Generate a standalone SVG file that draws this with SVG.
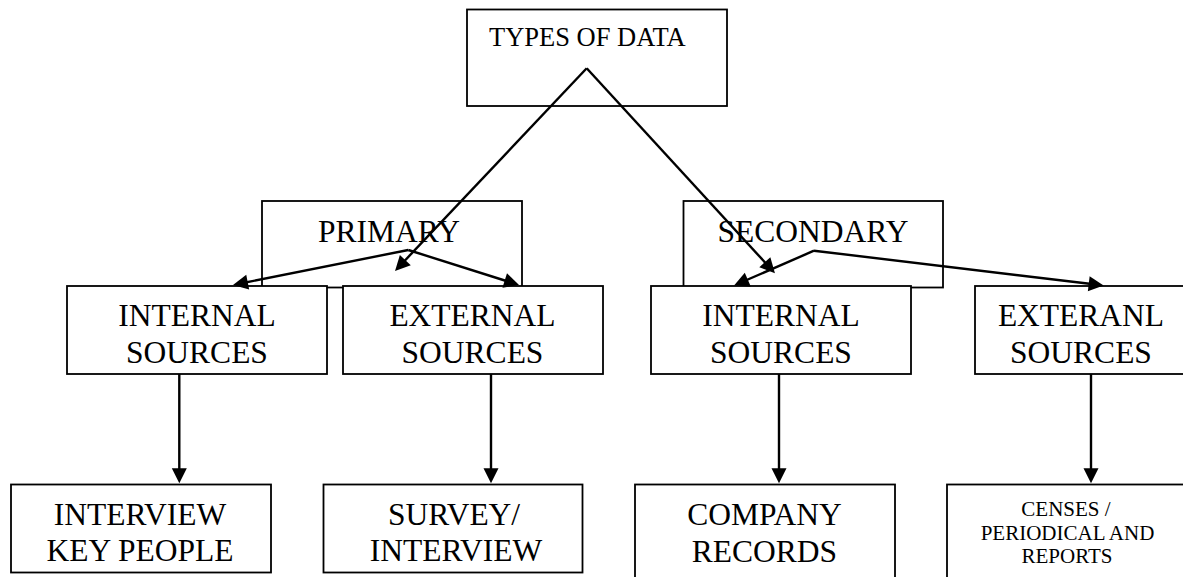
<svg xmlns="http://www.w3.org/2000/svg" width="1183" height="577" viewBox="0 0 1183 577">
<style>
.box{fill:#fff;stroke:#000;stroke-width:1.8}
.t{font-family:"Liberation Serif","Times New Roman",serif;font-size:31.5px;fill:#000;text-anchor:middle}
.s{font-size:21px}
.top{font-size:26.5px;text-anchor:start}
.c{fill:none;stroke:#000;stroke-width:2.4}
</style>
<defs>
<marker id="ah" markerUnits="userSpaceOnUse" markerWidth="15" markerHeight="15" refX="5" refY="7.5" orient="auto" overflow="visible">
<path d="M0,0 L15,7.5 L0,15 z" fill="#000"/>
</marker>
</defs>
<rect width="1183" height="577" fill="#fff"/>
<g id="types">
<rect class="box" x="467" y="9.5" width="260" height="96.5" fill="none"/>
<text class="t top" x="489" y="46">TYPES OF DATA</text>
</g>
<g id="primary">
<rect class="box" x="262" y="201" width="260" height="86.5"/>
<text class="t" x="389" y="242">PRIMARY</text>
</g>
<g id="secondary">
<rect class="box" x="683.5" y="201" width="259.5" height="86.5"/>
<text class="t" x="813" y="242">SECONDARY</text>
</g>
<g id="p-internal">
<rect class="box" x="67" y="286" width="260" height="88"/>
<text class="t" x="197" y="326">INTERNAL</text>
<text class="t" x="197" y="362.5">SOURCES</text>
</g>
<g id="p-external">
<rect class="box" x="343" y="286" width="260" height="88"/>
<text class="t" x="472.5" y="326">EXTERNAL</text>
<text class="t" x="472.5" y="362.5">SOURCES</text>
</g>
<g id="s-internal">
<rect class="box" x="651" y="286" width="260" height="88"/>
<text class="t" x="781" y="326">INTERNAL</text>
<text class="t" x="781" y="362.5">SOURCES</text>
</g>
<g id="s-external">
<rect class="box" x="975" y="286" width="215" height="88"/>
<text class="t" x="1081" y="326">EXTERANL</text>
<text class="t" x="1081" y="362.5">SOURCES</text>
</g>
<g id="interview">
<rect class="box" x="11" y="484.5" width="260" height="88"/>
<text class="t" x="140" y="525">INTERVIEW</text>
<text class="t" x="140" y="561">KEY PEOPLE</text>
</g>
<g id="survey">
<rect class="box" x="323.5" y="484.5" width="259" height="88"/>
<text class="t" x="454" y="525">SURVEY/</text>
<text class="t" x="456" y="561">INTERVIEW</text>
</g>
<g id="company">
<rect class="box" x="635" y="484.5" width="260" height="100"/>
<text class="t" x="764.5" y="525">COMPANY</text>
<text class="t" x="764.5" y="562">RECORDS</text>
</g>
<g id="censes">
<rect class="box" x="947" y="484.5" width="250" height="100"/>
<text class="t s" x="1066" y="516">CENSES /</text>
<text class="t s" x="1067.5" y="539.5">PERIODICAL AND</text>
<text class="t s" x="1067" y="563">REPORTS</text>
</g>
<g id="connectors">
<line class="c" x1="586.7" y1="68.3" x2="401.9" y2="263.7" marker-end="url(#ah)"/>
<line class="c" x1="586.7" y1="68.3" x2="768.2" y2="265.9" marker-end="url(#ah)"/>
<line class="c" x1="408.3" y1="250" x2="242.8" y2="283" marker-end="url(#ah)"/>
<line class="c" x1="408.3" y1="250" x2="509.5" y2="282" marker-end="url(#ah)"/>
<line class="c" x1="814" y1="250.7" x2="743.2" y2="281.5" marker-end="url(#ah)"/>
<line class="c" x1="814" y1="250.7" x2="1093.7" y2="284.3" marker-end="url(#ah)"/>
<line class="c" x1="179.3" y1="374" x2="179.3" y2="473.3" marker-end="url(#ah)"/>
<line class="c" x1="491" y1="374" x2="491" y2="473.3" marker-end="url(#ah)"/>
<line class="c" x1="779" y1="374" x2="779" y2="473.3" marker-end="url(#ah)"/>
<line class="c" x1="1091" y1="374" x2="1091" y2="473.3" marker-end="url(#ah)"/>
</g>
</svg>
